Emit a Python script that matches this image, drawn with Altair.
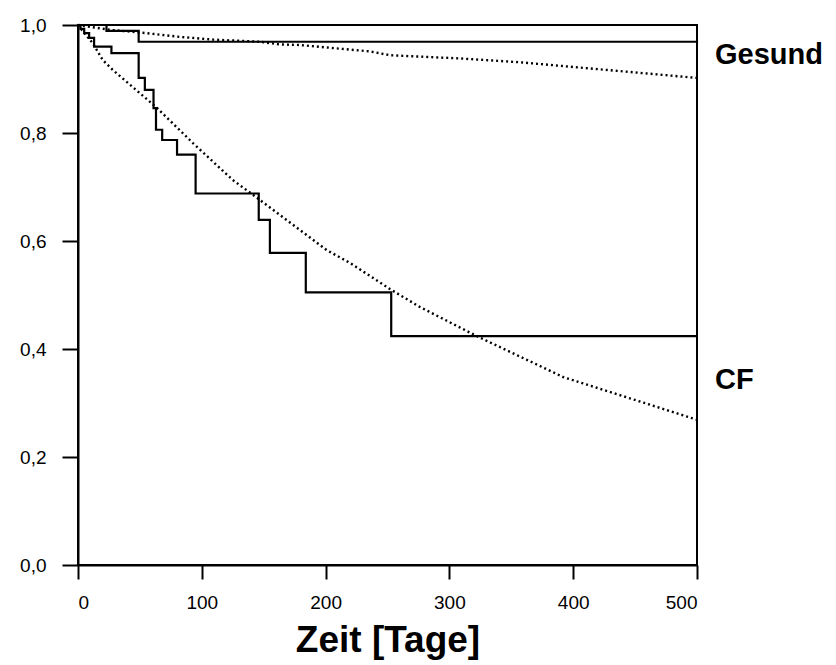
import altair as alt
import pandas as pd

# Kaplan-Meier, CF patients (step function)
cf_km_t = [0, 2, 5, 9, 13, 27, 49, 54, 61, 63, 68, 80, 95, 146, 155, 184, 253, 500]
cf_km_s = [1.0, 0.993, 0.985, 0.976, 0.96, 0.948, 0.902, 0.88, 0.846, 0.806, 0.787,
           0.76, 0.688, 0.639, 0.578, 0.505, 0.424, 0.424]

# Kaplan-Meier, healthy (step function)
ge_km_t = [0, 23, 49, 500]
ge_km_s = [1.0, 0.989, 0.969, 0.967]

# Expected / model curve, CF (dotted)
cf_exp_t = [0, 3, 12, 20, 28, 64, 93, 125, 147, 201, 220, 252, 276, 322, 392, 500]
cf_exp_s = [1.0, 0.991, 0.966, 0.935, 0.917, 0.846, 0.781, 0.713, 0.676, 0.583, 0.559,
            0.511, 0.478, 0.424, 0.348, 0.269]

# Expected / model curve, healthy (dotted)
ge_exp_t = [0, 26, 55, 82, 109, 147, 163, 179, 236, 252, 309, 357, 500]
ge_exp_s = [1.0, 0.991, 0.985, 0.978, 0.973, 0.969, 0.964, 0.963, 0.951, 0.944, 0.938,
            0.931, 0.902]

labels = ["Gesund", "CF"]
label_t = [500, 500]
label_s = [0.944, 0.343]

FONT = "Liberation Sans"

def frame(t, s, name):
    return pd.DataFrame({"t": t, "s": s, "curve": name})

km = pd.concat([frame(cf_km_t, cf_km_s, "CF"), frame(ge_km_t, ge_km_s, "Gesund")])
ex = pd.concat([frame(cf_exp_t, cf_exp_s, "CF"), frame(ge_exp_t, ge_exp_s, "Gesund")])
lab = pd.DataFrame({"label": labels, "t": label_t, "s": label_s})

x = alt.X("t:Q", scale=alt.Scale(domain=[0, 500], nice=False),
          axis=alt.Axis(title="Zeit [Tage]", values=[0, 100, 200, 300, 400, 500],
                        grid=False, tickSize=14, labelPadding=14,
                        titlePadding=10))
y = alt.Y("s:Q", scale=alt.Scale(domain=[0, 1], nice=False),
          axis=alt.Axis(title=None, values=[0, 0.2, 0.4, 0.6, 0.8, 1.0],
                        format=".1f", grid=False, tickSize=16, labelPadding=16,
                        labelExpr="replace(datum.label, '.', ',')"))

km_layer = alt.Chart(km).mark_line(interpolate="step-after", color="black",
                                   strokeWidth=2.2).encode(x=x, y=y, detail="curve:N")
ex_layer = alt.Chart(ex).mark_line(color="black", strokeWidth=2.4,
                                   strokeDash=[2, 3]).encode(x=x, y=y, detail="curve:N")
txt = alt.Chart(lab).mark_text(align="left", baseline="middle", dx=18, fontSize=29,
                               fontWeight="bold", font=FONT, color="black",
                               clip=False).encode(x="t:Q", y="s:Q", text="label:N")

chart = alt.layer(km_layer, ex_layer, txt).properties(
    width=619, height=540,
    background="white",
    padding={"left": 70, "top": 17, "right": 131, "bottom": 100},
    autosize=alt.AutoSizeParams(type="none"),
).configure_view(stroke="black", strokeWidth=2).configure_axis(
    domainColor="black", domainWidth=2, tickColor="black", tickWidth=2,
    labelFont=FONT, labelFontSize=19, labelColor="black",
    titleFont=FONT, titleFontSize=37, titleFontWeight="bold", titleColor="black",
)

chart.save("out.html", embed_options={"renderer": "svg", "actions": False})
